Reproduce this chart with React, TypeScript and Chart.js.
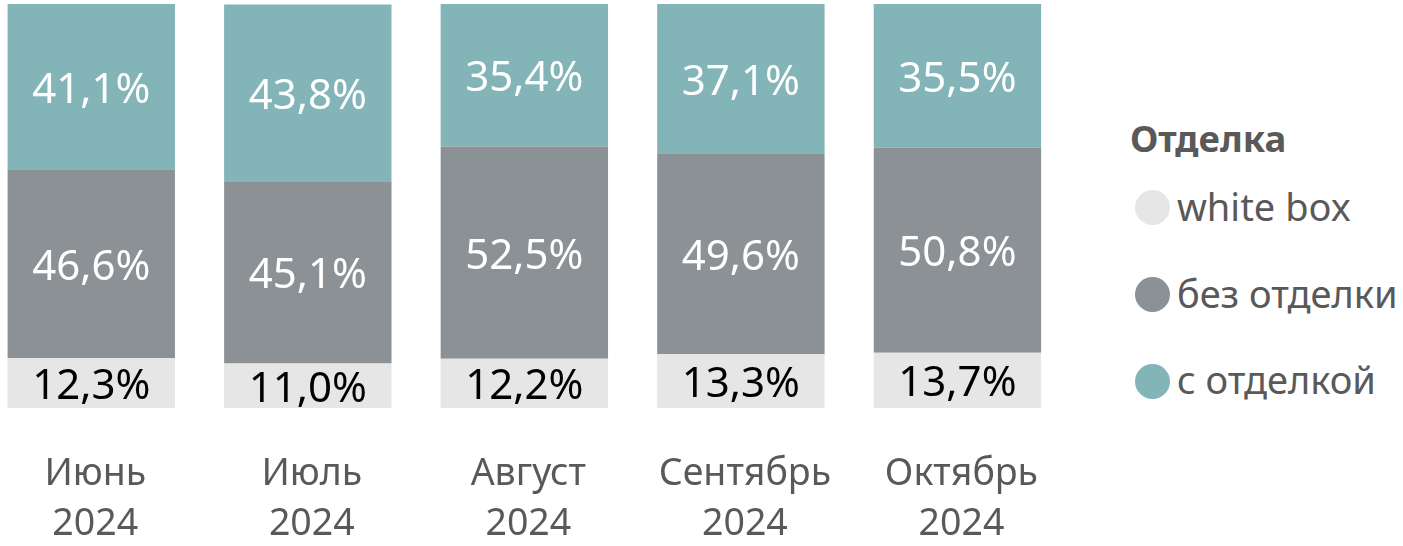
import React, { useEffect, useRef } from 'react';
import { Chart, registerables } from 'chart.js';

Chart.register(...registerables);

const categories: string[][] = [
  ['Июнь', '2024'],
  ['Июль', '2024'],
  ['Август', '2024'],
  ['Сентябрь', '2024'],
  ['Октябрь', '2024'],
];
const seriesNames = ['white box', 'без отделки', 'с отделкой'];
const seriesColors = ['#e6e6e6', '#8c9196', '#82b4b8'];
const labelColors = ['#000000', '#ffffff', '#ffffff'];
const whiteBox = [12.3, 11.0, 12.2, 13.3, 13.7];
const noFinish = [46.6, 45.1, 52.5, 49.6, 50.8];
const withFinish = [41.1, 43.8, 35.4, 37.1, 35.5];
const legendTitle = 'Отделка';

const FONT = '"Noto Sans", "Open Sans", sans-serif';
const TEXT_GRAY = '#595959';
const LABEL_SIZE = 42;

const fmt = (v: number) => v.toFixed(1).replace('.', ',') + '%';

const barLabels = {
  id: 'barLabels',
  afterDatasetsDraw(chart: any) {
    const ctx = chart.ctx;
    chart.data.datasets.forEach((ds: any, di: number) => {
      const meta = chart.getDatasetMeta(di);
      if (meta.hidden) return;
      meta.data.forEach((el: any, i: number) => {
        const v = ds.data[i];
        const { x, y, base } = el.getProps(['x', 'y', 'base'], true);
        ctx.save();
        ctx.font = `${LABEL_SIZE}px ${FONT}`;
        ctx.fillStyle = labelColors[di];
        ctx.textAlign = 'center';
        ctx.textBaseline = 'alphabetic';
        ctx.fillText(fmt(v), x, (y + base) / 2 + LABEL_SIZE * 0.357 + 1);
        ctx.restore();
      });
    });
  },
};

export default function App() {
  const ref = useRef<HTMLCanvasElement>(null);
  useEffect(() => {
    if (!ref.current) return;
    const chart = new Chart(ref.current, {
      type: 'bar',
      data: {
        labels: categories,
        datasets: [
          { label: seriesNames[0], data: whiteBox, backgroundColor: seriesColors[0] },
          { label: seriesNames[1], data: noFinish, backgroundColor: seriesColors[1] },
          { label: seriesNames[2], data: withFinish, backgroundColor: seriesColors[2] },
        ],
      },
      options: {
        animation: false,
        responsive: true,
        maintainAspectRatio: false,
        layout: { autoPadding: false, padding: { top: 4, right: 0, bottom: 0, left: 0 } },
        datasets: { bar: { barPercentage: 1, categoryPercentage: 0.773, borderWidth: 0 } },
        scales: {
          x: {
            stacked: true,
            grid: { display: false, drawTicks: false },
            border: { display: false },
            ticks: {
              color: TEXT_GRAY,
              font: { family: FONT, size: 37.5, lineHeight: '50px' },
              padding: 41,
              labelOffset: 4,
              maxRotation: 0,
              autoSkip: false,
            },
            afterFit: (scale: any) => {
              scale.height = 138;
            },
          },
          y: { stacked: true, min: 0, max: 100, display: false },
        },
        plugins: {
          tooltip: { enabled: false },
          legend: { display: false },
        },
      },
      plugins: [barLabels],
    });
    return () => chart.destroy();
  }, []);

  const itemCenters = [207.5, 294.5, 381];
  return (
    <div style={{ position: 'absolute', left: 0, top: 0, width: 1403, height: 546, overflow: 'hidden' }}>
      <div style={{ position: 'absolute', left: -17, top: 0, width: 1092, height: 546 }}>
        <canvas ref={ref} />
      </div>
      <div
        style={{
          position: 'absolute',
          left: 1130,
          top: 113,
          height: 46,
          lineHeight: '46px',
          font: `bold 36.5px ${FONT}`,
          color: TEXT_GRAY,
          whiteSpace: 'nowrap',
        }}
      >
        {legendTitle}
      </div>
      {seriesNames.map((name, i) => (
        <div
          key={name}
          style={{
            position: 'absolute',
            left: 1135,
            top: itemCenters[i] - 20,
            height: 40,
            display: 'flex',
            alignItems: 'center',
            whiteSpace: 'nowrap',
          }}
        >
          <span
            style={{
              display: 'inline-block',
              width: 35,
              height: 35,
              borderRadius: '50%',
              background: seriesColors[i],
              marginRight: 7,
              flex: 'none',
            }}
          />
          <span style={{ font: `38px ${FONT}`, lineHeight: '40px', color: TEXT_GRAY, position: 'relative', top: -2 }}>
            {name}
          </span>
        </div>
      ))}
    </div>
  );
}
